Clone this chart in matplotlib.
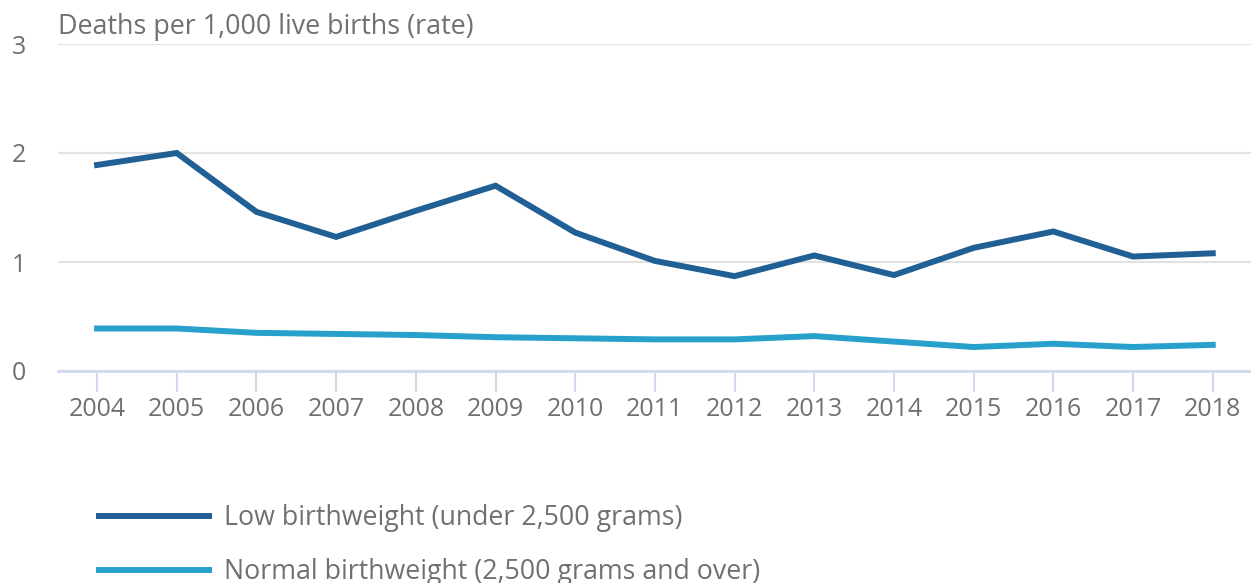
import matplotlib
matplotlib.use("Agg")
from matplotlib import pyplot as plt
import numpy as np

years = list(range(2004, 2019))
low_bw = [1.89, 2.00, 1.46, 1.23, 1.47, 1.70, 1.27, 1.01, 0.87, 1.06, 0.88, 1.13, 1.28, 1.05, 1.08]
normal_bw = [0.39, 0.39, 0.35, 0.34, 0.33, 0.31, 0.30, 0.29, 0.29, 0.32, 0.27, 0.22, 0.25, 0.22, 0.24]
labels = ["Low birthweight (under 2,500 grams)", "Normal birthweight (2,500 grams and over)"]

plt.rcParams['font.family'] = ['Open Sans', 'DejaVu Sans']
text_col = "#707070"

fig = plt.figure(figsize=(12.51, 5.83), dpi=100)
ax = fig.add_axes([58 / 1251, 212 / 583, 1193 / 1251, 327 / 583])

ax.plot(years, low_bw, color="#206095", lw=4.3, label=labels[0], solid_joinstyle='miter')
ax.plot(years, normal_bw, color="#27a0cc", lw=4.3, label=labels[1])

ax.set_xlim(2003.51, 2018.48)
ax.set_ylim(0, 3)
ax.set_yticks([0, 1, 2, 3])
ax.set_xticks(years)
ax.grid(axis='y', color="#e2e2e2", lw=1.5)
ax.set_axisbelow(True)
for s in ['top', 'right', 'left']:
    ax.spines[s].set_visible(False)
ax.spines['bottom'].set_color("#d0d9ee")
ax.spines['bottom'].set_linewidth(2)
ax.tick_params(axis='x', length=15, width=1.5, color="#d0d9ee", labelsize=18, labelcolor=text_col, pad=4)
ax.tick_params(axis='y', length=0, labelsize=18, labelcolor=text_col, pad=33)
for t in ax.get_yticklabels():
    t.set_horizontalalignment('left')

fig.text(58 / 1251, 1 - 27 / 583, "Deaths per 1,000 live births (rate)", fontsize=19.4,
         color=text_col, va='center', ha='left')

fig.legend(loc='upper left', bbox_to_anchor=(75 / 1251, 1 - 480 / 583), frameon=False,
           fontsize=19.3, labelcolor=text_col, handlelength=4.1, handletextpad=0.55,
           labelspacing=0.97)

fig.savefig("out.png", dpi=100)
